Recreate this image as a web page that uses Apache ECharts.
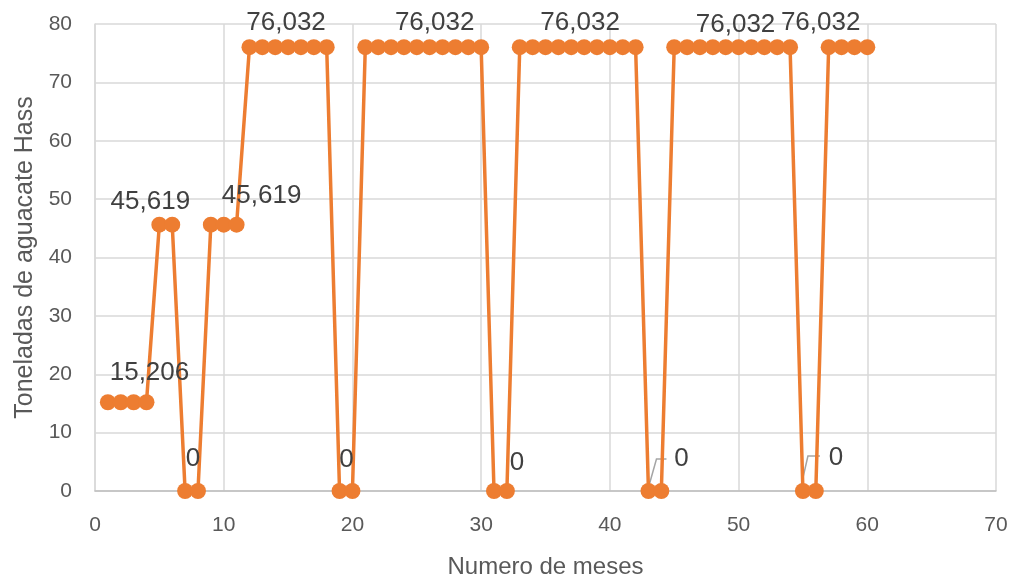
<!DOCTYPE html>
<html>
<head>
<meta charset="utf-8">
<script src="https://cdn.jsdelivr.net/npm/echarts@6/dist/echarts.min.js"></script>
<style>html,body{margin:0;padding:0;background:#fff}#c{width:1010px;height:580px}</style>
</head>
<body>
<div id="c"></div>
<script>
const months = [1,2,3,4,5,6,7,8,9,10,11,12,13,14,15,16,17,18,19,20,21,22,23,24,25,26,27,28,29,30,31,32,33,34,35,36,37,38,39,40,41,42,43,44,45,46,47,48,49,50,51,52,53,54,55,56,57,58,59,60];
const tonnes = [15.206,15.206,15.206,15.206,45.619,45.619,0,0,45.619,45.619,45.619,
  76.032,76.032,76.032,76.032,76.032,76.032,76.032,0,0,
  76.032,76.032,76.032,76.032,76.032,76.032,76.032,76.032,76.032,76.032,0,0,
  76.032,76.032,76.032,76.032,76.032,76.032,76.032,76.032,76.032,76.032,0,0,
  76.032,76.032,76.032,76.032,76.032,76.032,76.032,76.032,76.032,76.032,0,0,
  76.032,76.032,76.032,76.032];
// months that carry a data label
const labelMonths = [4,5,8,11,15,20,26,32,38,43,50,55,57];
// months whose label has a leader line
const leaderMonths = [43,55];

// label displacement (pixels) per labelled month
const labelShift = {4:[3,-3],5:[-9,3],8:[-5,-6.5],11:[25,-3],15:[-2,2],20:[-6,-5],26:[5,2],32:[10,-2],38:[-4,2],43:[33,-6],50:[-3,4],55:[33,-7.5],57:[-8,2]};
// leader line polyline offsets (pixels) from the point
const leaderShape = {43:[[-1,0],[8,-32],[18,-32]],55:[[-3,0],[5,-35],[17,-35]]};

const FONT = 'Liberation Sans';
const data = months.map((m,i) => {
  const item = {value:[m, tonnes[i]]};
  if (labelMonths.includes(m)) item.label = {show:true};
  return item;
});

const chart = echarts.init(document.getElementById('c'), null, {renderer:'canvas'});
chart.setOption({
  animation:false,
  grid:{left:95,right:14,top:24,bottom:89,containLabel:false,outerBoundsMode:'none'},
  xAxis:{
    type:'value',min:0,max:70,interval:10,
    name:'Numero de meses',nameLocation:'middle',nameGap:64,
    nameTextStyle:{fontFamily:FONT,fontSize:24,color:'#595959'},
    axisLine:{show:true,lineStyle:{color:'#bfbfbf',width:1.5}},
    axisTick:{show:false},
    axisLabel:{fontFamily:FONT,fontSize:21,color:'#595959',margin:24},
    splitLine:{show:true,lineStyle:{color:'#d9d9d9',width:1.5}}
  },
  yAxis:{
    type:'value',min:0,max:80,interval:10,
    name:'Toneladas de aguacate Hass',nameLocation:'middle',nameGap:55,
    nameTextStyle:{fontFamily:FONT,fontSize:25,color:'#595959'},
    axisLine:{show:true,lineStyle:{color:'#d9d9d9',width:1.5}},
    axisTick:{show:false},
    axisLabel:{fontFamily:FONT,fontSize:21,color:'#595959',margin:23},
    splitLine:{show:true,lineStyle:{color:'#d9d9d9',width:1.5}}
  },
  series:[{
    type:'line',
    data:data,
    symbol:'circle',symbolSize:16,
    lineStyle:{color:'#ED7D31',width:3.5},
    itemStyle:{color:'#ED7D31'},
    label:{show:false,position:'top',distance:5,fontFamily:FONT,fontSize:26,color:'#404040',
      formatter:p => String(p.value[1]).replace('.',',')},
    labelLayout: function(params){
      const s = labelShift[months[params.dataIndex]];
      if (!s) return {};
      return {dx:s[0],dy:s[1]};
    },
    z:3
  }]
});

// leader lines anchored to data points through the chart's own scales
const leaders = leaderMonths.map(m => {
  const i = months.indexOf(m);
  const p = chart.convertToPixel({gridIndex:0},[m, tonnes[i]]);
  return {
    type:'polyline', z:2, silent:true,
    shape:{points: leaderShape[m].map(o => [p[0]+o[0], p[1]+o[1]])},
    style:{stroke:'#a5a5a5', lineWidth:1.5, fill:null}
  };
});
chart.setOption({graphic:leaders});
</script>
</body>
</html>
